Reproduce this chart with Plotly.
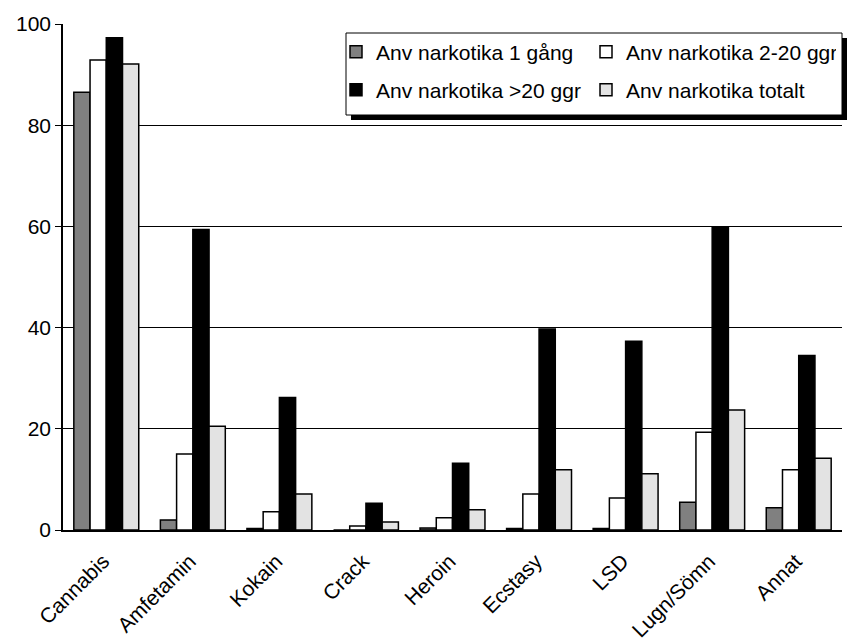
import plotly.graph_objects as go

categories = ["Cannabis", "Amfetamin", "Kokain", "Crack", "Heroin", "Ecstasy", "LSD", "Lugn/Sömn", "Annat"]
series_names = ["Anv narkotika 1 gång", "Anv narkotika 2-20 ggr", "Anv narkotika >20 ggr", "Anv narkotika totalt"]
once = [86.5, 2.0, 0.3, 0.0, 0.4, 0.3, 0.3, 5.5, 4.4]
two_to_20 = [92.9, 15.0, 3.6, 0.8, 2.4, 7.1, 6.3, 19.3, 11.9]
over_20 = [97.3, 59.4, 26.2, 5.3, 13.2, 39.7, 37.3, 59.8, 34.5]
total = [92.1, 20.5, 7.1, 1.6, 4.0, 11.9, 11.1, 23.7, 14.2]
y_ticks = [0, 20, 40, 60, 80, 100]

colors = ["#808080", "#ffffff", "#000000", "#e3e3e3"]
legends = ["legend", "legend", "legend2", "legend2"]
FONT = "Arial, Liberation Sans, sans-serif"

fig = go.Figure()
for name, vals, col, lg in zip(series_names, [once, two_to_20, over_20, total], colors, legends):
    fig.add_trace(go.Bar(
        x=categories, y=vals, name=name, legend=lg,
        marker=dict(color=col, line=dict(color="#000000", width=1.5)),
    ))

W, H = 853, 642
ml, mr, mt, mb = 63, 11, 24, 112
pw, ph = W - ml - mr, H - mt - mb

def px_x(x):
    return (x - ml) / pw

def px_y(y):
    return (H - mb - y) / ph

legend_common = dict(
    orientation="h", xanchor="left", yanchor="middle",
    bgcolor="rgba(0,0,0,0)", borderwidth=0,
    font=dict(family=FONT, size=21, color="#000000"),
    entrywidth=205, entrywidthmode="pixels",
    itemclick=False, itemdoubleclick=False,
)

fig.update_layout(
    width=W, height=H,
    margin=dict(l=ml, r=mr, t=mt, b=mb, autoexpand=False),
    paper_bgcolor="#ffffff", plot_bgcolor="#ffffff",
    barmode="group", bargap=0.25, bargroupgap=0,
    font=dict(family=FONT, size=21, color="#000000"),
    legend=dict(x=px_x(336), y=px_y(52), **legend_common),
    legend2=dict(x=px_x(336), y=px_y(90), **legend_common),
    shapes=[
        dict(type="rect", xref="paper", yref="paper", layer="above",
             x0=px_x(351), x1=px_x(847), y0=px_y(120), y1=px_y(38),
             fillcolor="#000000", line=dict(width=0)),
        dict(type="rect", xref="paper", yref="paper", layer="above",
             x0=px_x(346), x1=px_x(842), y0=px_y(115), y1=px_y(33),
             fillcolor="#ffffff", line=dict(color="#000000", width=1)),
    ],
)

fig.update_xaxes(
    showline=True, linecolor="#000000", linewidth=1.5,
    ticks="", tickangle=-45, automargin=False,
    ticklabelstandoff=9, ticklabelshift=-3,
    tickfont=dict(family=FONT, size=21, color="#000000"),
    showgrid=False,
)
fig.update_yaxes(
    range=[0, 100], tickvals=y_ticks, ticktext=[str(v) for v in y_ticks],
    showline=True, linecolor="#000000", linewidth=1.5,
    ticks="outside", ticklen=6, tickcolor="#000000", tickwidth=1,
    showgrid=True, gridcolor="#000000", gridwidth=1,
    zeroline=False, automargin=False,
    tickfont=dict(family=FONT, size=21, color="#000000"),
)

fig.write_html(
    "out.html",
    config={"displayModeBar": False},
    post_script="document.body.style.margin='0';document.body.style.overflow='hidden';",
)
